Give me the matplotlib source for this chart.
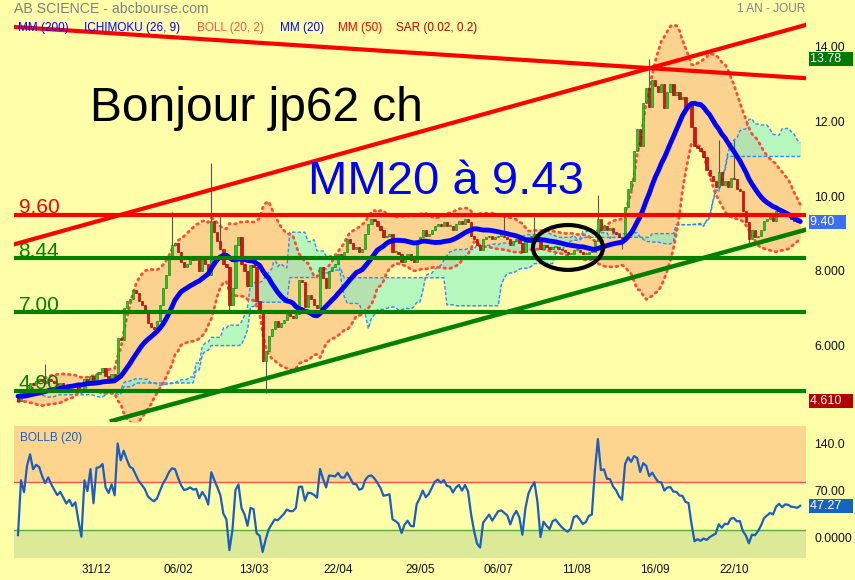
import numpy as np
import pandas as pd
import matplotlib
matplotlib.use("Agg")
import matplotlib.pyplot as plt
import matplotlib.transforms as mtransforms
from matplotlib.patches import Ellipse

plt.rcParams['font.family'] = ['Liberation Sans', 'DejaVu Sans']

# closes before the visible window (only used to seed the indicators)
seed_closes = [
    5.00, 5.10, 5.25, 5.40, 5.30, 5.10, 4.90, 4.70, 4.50, 4.40,
    4.45, 4.60, 4.70, 4.85, 4.95, 5.00, 4.90, 4.85, 4.80, 4.75,
    4.80, 4.90, 5.00, 4.95, 4.90, 4.85, 4.80, 4.75, 4.80, 4.85,
    4.80, 4.85, 4.80, 4.70, 4.65, 4.72, 4.82, 4.86, 4.78, 4.70,
    4.66, 4.74, 4.82, 4.85, 4.78, 4.70, 4.68, 4.76, 4.80, 4.72,
]

# daily closes, 25/11/2014 -> 23/11/2015
closes = [
    4.62, 4.85, 4.80, 4.95, 5.10, 5.05, 5.15, 5.20, 5.15, 5.10,
    5.20, 5.15, 5.10, 5.05, 5.10, 5.05, 5.00, 5.05, 5.00, 5.05,
    4.95, 4.85, 5.20, 5.15, 5.30, 5.10, 5.35, 5.40, 5.50, 5.30,
    5.25, 5.35, 5.25, 6.30, 6.25, 7.10, 7.30, 7.35, 7.60, 7.50,
    7.30, 7.20, 7.05, 6.70, 6.60, 6.55, 6.75, 7.20, 7.65, 8.00,
    8.45, 8.80, 8.85, 8.60, 8.35, 8.20, 8.30, 8.45, 8.40, 8.50,
    8.10, 8.45, 8.30, 8.00, 9.45, 9.15, 8.90, 8.70, 8.30, 8.20,
    7.20, 7.65, 8.80, 9.00, 8.30, 8.10, 7.70, 8.25, 8.20, 7.30,
    7.05, 5.70, 5.95, 6.35, 6.55, 6.75, 6.60, 6.70, 6.80, 7.00,
    6.90, 6.85, 6.95, 7.85, 7.80, 7.15, 7.45, 7.35, 7.20, 7.10,
    8.20, 7.90, 7.65, 8.10, 8.20, 8.30, 8.55, 8.50, 8.60, 8.95,
    8.85, 8.70, 8.75, 8.60, 8.70, 9.10, 9.35, 9.50, 9.45, 9.30,
    9.20, 9.00, 9.05, 9.10, 8.60, 8.60, 8.55, 8.35, 8.50, 8.55,
    8.40, 8.35, 8.85, 9.00, 9.20, 9.05, 9.10, 9.20, 9.30, 9.35,
    9.30, 9.40, 9.30, 9.30, 9.20, 9.35, 9.45, 9.35, 9.50, 9.40,
    9.05, 8.95, 8.80, 8.65, 8.95, 9.00, 9.05, 8.95, 9.00, 9.05,
    9.05, 9.00, 8.95, 8.80, 8.90, 8.95, 8.85, 8.60, 8.90, 9.00,
    9.05, 9.10, 8.95, 8.70, 8.80, 8.75, 8.70, 8.75, 8.75, 8.70,
    8.65, 8.60, 8.55, 8.55, 8.65, 8.65, 8.60, 8.55, 8.55, 8.60,
    8.60, 8.90, 9.50, 9.20, 9.30, 9.20, 9.25, 9.15, 9.10, 9.00,
    8.95, 9.80, 10.30, 10.50, 11.30, 11.90, 11.45, 12.60, 13.00, 12.50,
    13.20, 13.05, 12.90, 13.10, 12.45, 12.90, 13.10, 12.80, 12.90, 12.70,
    12.75, 12.50, 12.55, 11.95, 11.45, 11.40, 11.30, 11.15, 10.80, 10.65,
    10.50, 10.35, 10.75, 10.40, 10.50, 10.35, 10.60, 10.55, 10.30, 10.25,
    9.70, 9.40, 8.95, 9.20, 9.00, 9.05, 9.20, 9.45, 9.50, 9.55,
    9.45, 9.70, 9.75, 9.60, 9.65, 9.60, 9.50, 9.45, 9.40, 9.40,
]

# long wicks (day index -> price)
wick_highs = {9: 5.60, 51: 9.68, 64: 11.00, 67: 9.55, 161: 9.65, 171: 9.55,
              192: 10.13, 209: 13.78, 232: 11.60, 237: 11.60}
wick_lows = {0: 4.61, 70: 7.00, 82: 4.84, 242: 8.85, 200: 8.70}

tick_dates = ["2014-12-31", "2015-02-06", "2015-03-13", "2015-04-22", "2015-05-29",
              "2015-07-06", "2015-08-11", "2015-09-16", "2015-10-22"]
tick_labels = ["31/12", "06/02", "13/03", "22/04", "29/05", "06/07", "11/08", "16/09", "22/10"]

price_ticks = [6, 8, 10, 12, 14]
price_tick_labels = ["6.000", "8.000", "10.00", "12.00", "14.00"]
bollb_ticks = [0, 70, 140]
bollb_tick_labels = ["0.0000", "70.00", "140.0"]

levels = [9.60, 8.44, 7.00, 4.90]
level_labels = ["9.60", "8.44", "7.00", "4.90"]
level_colors = ["#ff0000", "#008000", "#008000", "#008000"]

# hand drawn trend lines: (day index pair, price pair)
red_up = ([-1.0, 260.6], [8.82, 14.68])
red_down = ([-1.0, 260.6], [14.63, 13.26])
green_up = ([31.1, 260.6], [4.09, 9.20])

BG = "#ffffaa"

n_seed = len(seed_closes)
close = pd.Series(seed_closes + closes, dtype=float)
openp = close.shift(1).fillna(close.iloc[0])
high = pd.concat([openp, close], axis=1).max(axis=1)
low = pd.concat([openp, close], axis=1).min(axis=1)
for k, v in wick_highs.items():
    high.iloc[n_seed + k] = max(high.iloc[n_seed + k], v)
for k, v in wick_lows.items():
    low.iloc[n_seed + k] = min(low.iloc[n_seed + k], v)

# Bollinger (20, 2)
mid = close.rolling(20).mean()
sd = close.rolling(20).std(ddof=0)
upper = mid + 2 * sd
lower = mid - 2 * sd
pctb = (close - lower) / (upper - lower) * 100

# Ichimoku (26, 9)
tenkan = (high.rolling(9).max() + low.rolling(9).min()) / 2
kijun = (high.rolling(26).max() + low.rolling(26).min()) / 2
span_a = ((tenkan + kijun) / 2).shift(26)
span_b = ((high.rolling(52).max() + low.rolling(52).min()) / 2).shift(26)

vis = slice(n_seed, None)
o = openp[vis].values
c = close[vis].values
h = high[vis].values
l = low[vis].values
mm20 = mid[vis].values
up_b = upper[vis].values
lo_b = lower[vis].values
sa = span_a[vis].values
sb = span_b[vis].values
bollb = pctb[vis].values
idx = np.arange(len(c))

dates = pd.bdate_range("2014-11-25", periods=len(c))
tick_pos = dates.get_indexer(pd.to_datetime(tick_dates))

W, H = 855, 580
fig = plt.figure(figsize=(W / 100, H / 100), dpi=100, facecolor=BG)


def px_box(x0, y0, x1, y1):
    return [x0 / W, 1 - y1 / H, (x1 - x0) / W, (y1 - y0) / H]


ax = fig.add_axes(px_box(14, 18, 806, 422))
ax2 = fig.add_axes(px_box(14, 426, 806, 558))
lift = mtransforms.ScaledTranslation(0, 4 / 100, fig.dpi_scale_trans)
for a in (ax, ax2):
    a.set_facecolor(BG)
    for s in a.spines.values():
        s.set_visible(False)
    a.set_xlim(-1.32, 260.9)
    a.yaxis.tick_right()
    a.tick_params(axis='y', length=0, pad=6, labelsize=8.7, labelcolor="#111111")

ax.set_ylim(4.06, 14.87)
ax.tick_params(axis='x', bottom=False, labelbottom=False)
ax.set_yticks(price_ticks)
ax.set_yticklabels(price_tick_labels)
for t in ax.get_yticklabels():
    t.set_transform(t.get_transform() + lift)

# Bollinger band area
ax.fill_between(idx, lo_b, up_b, color="#fcd28f", lw=0, zorder=1)
# Ichimoku cloud
ax.fill_between(idx, sa, sb, color="#6ef0d0", alpha=0.5, lw=0, zorder=2)
for s in (sa, sb):
    ax.plot(idx, s, color="#2e8cf0", lw=1.0, ls=(0, (2.5, 1.5)), zorder=3)
for b in (up_b, lo_b):
    ax.plot(idx, b, color="#ff4a3a", lw=2.0, ls=(0, (0.6, 1.6)),
            dash_capstyle='round', zorder=3)

# candles
rising = c >= o
body_col = np.where(rising, "#22cc22", "#e01010")
edge_col = np.where(rising, "#0b7a0b", "#8a0000")
ax.vlines(idx, l, h, color="#555555", lw=0.8, zorder=4)
ax.bar(idx, np.maximum(np.abs(c - o), 0.03), bottom=np.minimum(o, c), width=0.75,
       color=body_col, edgecolor=edge_col, linewidth=0.4, zorder=5)

# MM20
ax.plot(idx, mm20, color="#0000ff", lw=3.5, solid_capstyle='round', zorder=6)

# horizontal levels and trend lines
for v, lab, col in zip(levels, level_labels, level_colors):
    ax.axhline(v, color=col, lw=3.0, zorder=7)
    ax.text(0.2, v + 0.04, lab, color=col, fontsize=15, ha='left', va='baseline', zorder=8)
ax.plot(*red_up, color="#ff0000", lw=3.0, zorder=7)
ax.plot(*red_down, color="#ff0000", lw=3.0, zorder=7)
ax.plot(*green_up, color="#008000", lw=3.2, zorder=7)

ax.add_patch(Ellipse((182.1, 8.73), 23.2, 1.2, fill=False, ec="black", lw=3, zorder=8))

ax.text(0.096, 0.745, "Bonjour jp62 ch", transform=ax.transAxes, fontsize=34.5,
        color="black", ha='left', va='baseline', zorder=9)
ax.text(0.371, 0.564, "MM20 à 9.43", transform=ax.transAxes, fontsize=34,
        color="#0000ff", ha='left', va='baseline', zorder=9)

blend = mtransforms.blended_transform_factory(ax.transAxes, ax.transData)
blend2 = mtransforms.blended_transform_factory(ax2.transAxes, ax2.transData)


def value_box(axis, tr, value, text, color):
    axis.text(1.005, value, text + "   ", transform=tr, color="white", fontsize=9,
              ha='left', va='center', zorder=10, clip_on=False,
              bbox=dict(boxstyle="square,pad=0.08", fc=color, ec="none"))


value_box(ax, blend, h.max(), f"{h.max():.2f}", "#007a00")
value_box(ax, blend, c[-1], f"{c[-1]:.2f}", "#3c6ef0")
value_box(ax, blend, l.min(), f"{l.min():.3f}", "#b30000")

# lower panel: BOLLB (20)
ax2.set_ylim(-31, 167)
ax2.axhspan(83, 200, color="#fdd58f", lw=0, zorder=0)
ax2.axhspan(-50, 11, color="#dcea98", lw=0, zorder=0)
ax2.axhline(83, color="#ff5050", lw=1.0, zorder=1)
ax2.axhline(11, color="#5aaa3c", lw=1.0, zorder=1)
ax2.plot(idx, bollb, color="#1a5fc0", lw=1.6, zorder=3)
ax2.set_yticks(bollb_ticks)
ax2.set_yticklabels(bollb_tick_labels)
ax2.set_xticks(tick_pos)
ax2.set_xticklabels(tick_labels)
ax2.tick_params(axis='x', length=0, pad=4, labelsize=8.5, labelcolor="#111111")
ax2.text(0.008, 0.91, "BOLLB (20)", transform=ax2.transAxes, color="#1a5fc0",
         fontsize=8.5, ha='left', va='center')
value_box(ax2, blend2, bollb[-1], f"{bollb[-1]:.2f}", "#1565c0")

# header texts
fig.text(14 / W, 1 - 9 / H, "AB SCIENCE - abcbourse.com", color="#808080",
         fontsize=10.2, ha='left', va='center')
fig.text(805 / W, 1 - 9 / H, "1 AN - JOUR", color="#808080", fontsize=8.6,
         ha='right', va='center')
legend_items = [("MM (200)", "#0000ff", 18), ("ICHIMOKU (26, 9)", "#0000ff", 84),
                ("BOLL (20, 2)", "#f05a3c", 197), ("MM (20)", "#0000ff", 280),
                ("MM (50)", "#ff0000", 338), ("SAR (0.02, 0.2)", "#c00000", 396)]
for lab, col, x in legend_items:
    fig.text(x / W, 1 - 28 / H, lab, color=col, fontsize=8.5, ha='left', va='center')

fig.savefig("out.png", dpi=100, facecolor=BG)
